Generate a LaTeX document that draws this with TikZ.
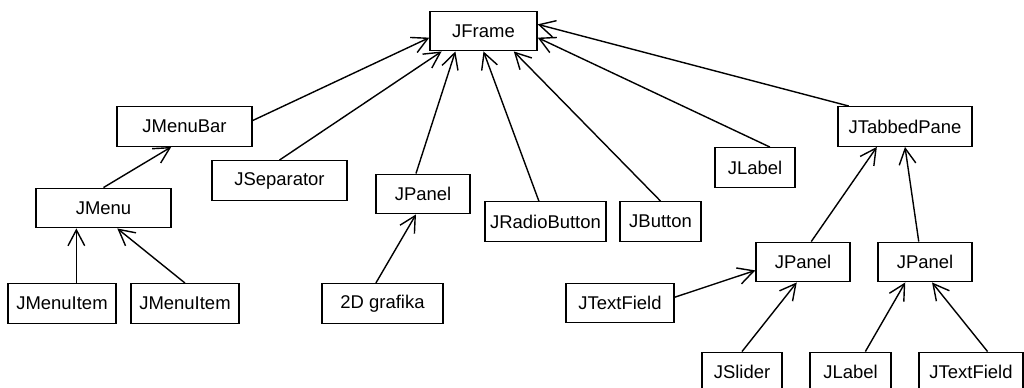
\documentclass[tikz,border=0pt]{standalone}
\usepackage{fontspec}
\setmainfont{Liberation Sans}
\usetikzlibrary{arrows.meta}

\begin{document}
\begin{tikzpicture}[x=0.02cm,y=-0.02cm,line width=0.8pt,
    cls/.style={draw,minimum height=0.79cm,inner sep=0pt,font=\fontsize{10.5}{12}\selectfont},
    >={Straight Barb[length=9pt,width=9.5pt]}]
    \useasboundingbox (0,0) rectangle (1024,388);
    \node[cls,minimum width=2.14cm] (frame) at (483.5,31) {JFrame};
    \node[cls,minimum width=2.70cm] (menubar) at (184.5,126.5) {JMenuBar};
    \node[cls,minimum width=2.70cm] (separator) at (279.5,180.5) {JSeparator};
    \node[cls,minimum width=1.88cm] (panelA) at (423,194) {JPanel};
    \node[cls,minimum width=2.70cm] (menu) at (103.5,208) {JMenu};
    \node[cls,minimum width=2.16cm] (itemA) at (62,303.5) {JMenuItem};
    \node[cls,minimum width=2.16cm] (itemB) at (185,303.5) {JMenuItem};
    \node[cls,minimum width=2.42cm] (grafika) at (382.5,303.5) {2D grafika};
    \node[cls,minimum width=2.42cm] (radio) at (545.5,221.5) {JRadioButton};
    \node[cls,minimum width=1.62cm] (button) at (660.5,221.5) {JButton};
    \node[cls,minimum width=1.60cm] (labelA) at (755,167.5) {JLabel};
    \node[cls,minimum width=2.68cm] (tabbed) at (905,126.5) {JTabbedPane};
    \node[cls,minimum width=1.88cm] (panelB) at (803,262) {JPanel};
    \node[cls,minimum width=1.88cm] (panelC) at (925,262) {JPanel};
    \node[cls,minimum width=2.16cm] (fieldA) at (620,303) {JTextField};
    \node[cls,minimum width=1.60cm] (slider) at (742,372) {JSlider};
    \node[cls,minimum width=1.62cm] (labelB) at (850.5,372) {JLabel};
    \node[cls,minimum width=2.08cm] (fieldB) at (971,372) {JTextField};
    \foreach \src/\dst in {menubar.5/frame.187,separator.north/frame.206,panelA.109/frame.216,
        radio.108/frame.south,button.north/frame.326,labelA.54/frame.353,tabbed.160/frame.7,
        menu.north/menubar.237,itemB.north/menu.304,grafika.108/panelA.251,
        panelB.68/tabbed.216,panelC.107/tabbed.south,fieldA.6/panelB.190,
        slider.north/panelB.253,labelB.54/panelC.226,fieldB.51/panelC.289}
    { \draw [->] (\src) -- (\dst);
    }
    \draw [->] (menu.217 |- itemA.north) -- (menu.217);
\end{tikzpicture}
\end{document}
